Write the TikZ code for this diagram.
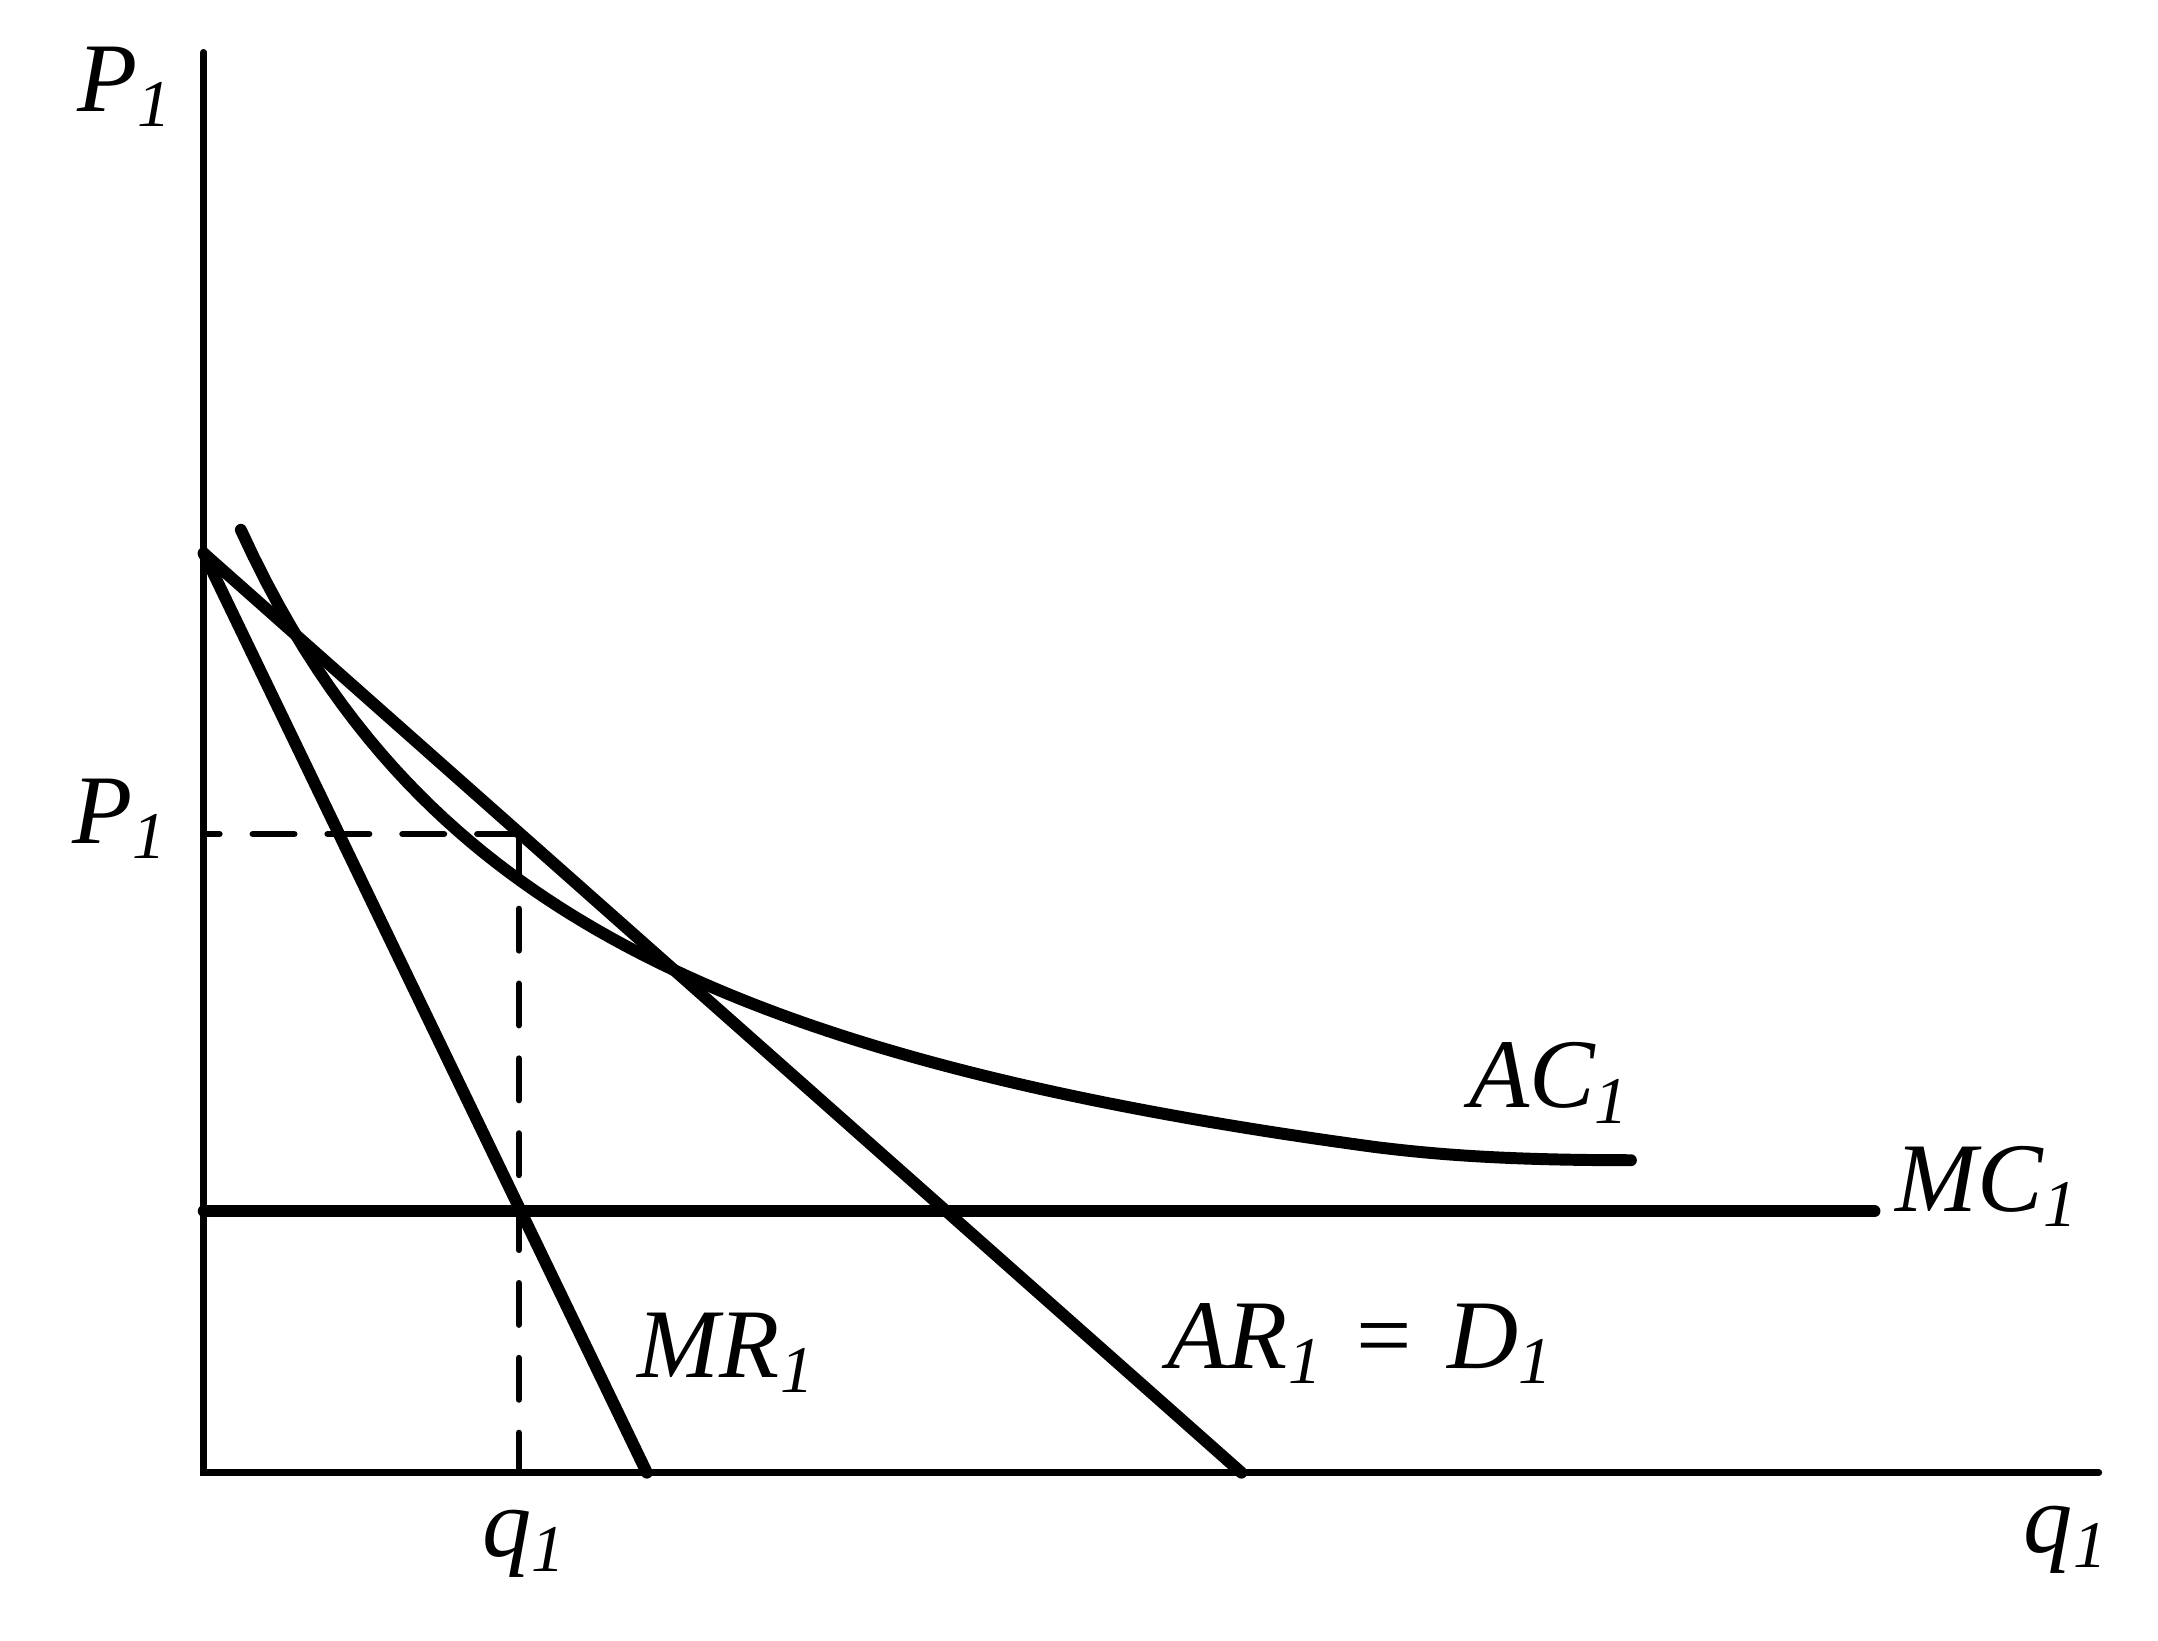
\documentclass[tikz,border=0pt]{standalone}
\usepackage{fontspec}
\setmainfont{Liberation Serif}
\newcommand\sbs[1]{\raisebox{-4.3pt}{\fontsize{19}{19}\selectfont #1}}
\begin{document}
\begin{tikzpicture}[x=0.013763cm, y=-0.013763cm,
  axis/.style={line width=1.9pt, line cap=round},
  curve/.style={line width=3.4pt, line cap=round, line join=round},
  guide/.style={line width=1.85pt, line cap=round, dash pattern=on 11.8pt off 9.5pt},
  lab/.style={font=\fontsize{28}{30}\selectfont\itshape, inner sep=0pt, anchor=base west}]
\useasboundingbox (0,0) rectangle (1568,1192);
% key points
\coordinate (ytop) at (148,38);
\coordinate (O) at (148,1070);
\coordinate (xend) at (1525,1070);
\coordinate (A) at (148,402);
\coordinate (ARend) at (902,1070);
\coordinate (MRend) at (470,1070);
\coordinate (MCl) at (148,880);
\coordinate (MCr) at (1362,880);
\coordinate (Ppt) at (377,606);
\coordinate (Pax) at (148,606);
\coordinate (Qax) at (377,1070);
% axes
\draw[axis] (ytop) -- (O) -- (xend);
% guides
\draw[guide] (Ppt) -- (Pax);
\draw[guide] (Ppt) -- (Qax);
% curves
\draw[curve] (A) -- (ARend);
\draw[curve] (A) -- (MRend);
\draw[curve] (MCl) -- (MCr);
\draw[curve] plot[domain=175:1000, samples=90, variable=\t] ({\t}, {981.5 - 1623.8/((\t+97.2)/100)})
  .. controls (1040,838.4) and (1090,843) .. (1185,843);
% labels
\node[lab] (ly) at (56,81) {P\sbs{1}};
\node[lab] (lp) at (52,613) {P\sbs{1}};
\node[lab] (lq) at (350,1131) {q\sbs{1}};
\node[lab] (lx) at (1470,1128) {q\sbs{1}};
\node[lab] (lac) at (1067,805) {AC\sbs{1}};
\node[lab] (lmc) at (1377,880) {MC\sbs{1}};
\node[lab] (lmr) at (463,1001) {MR\sbs{1}};
\node[lab] (lar) at (848,994) {AR\sbs{1}\hspace{0.36em}\textup{=}\hspace{0.36em}D\sbs{1}};
\end{tikzpicture}
\end{document}
